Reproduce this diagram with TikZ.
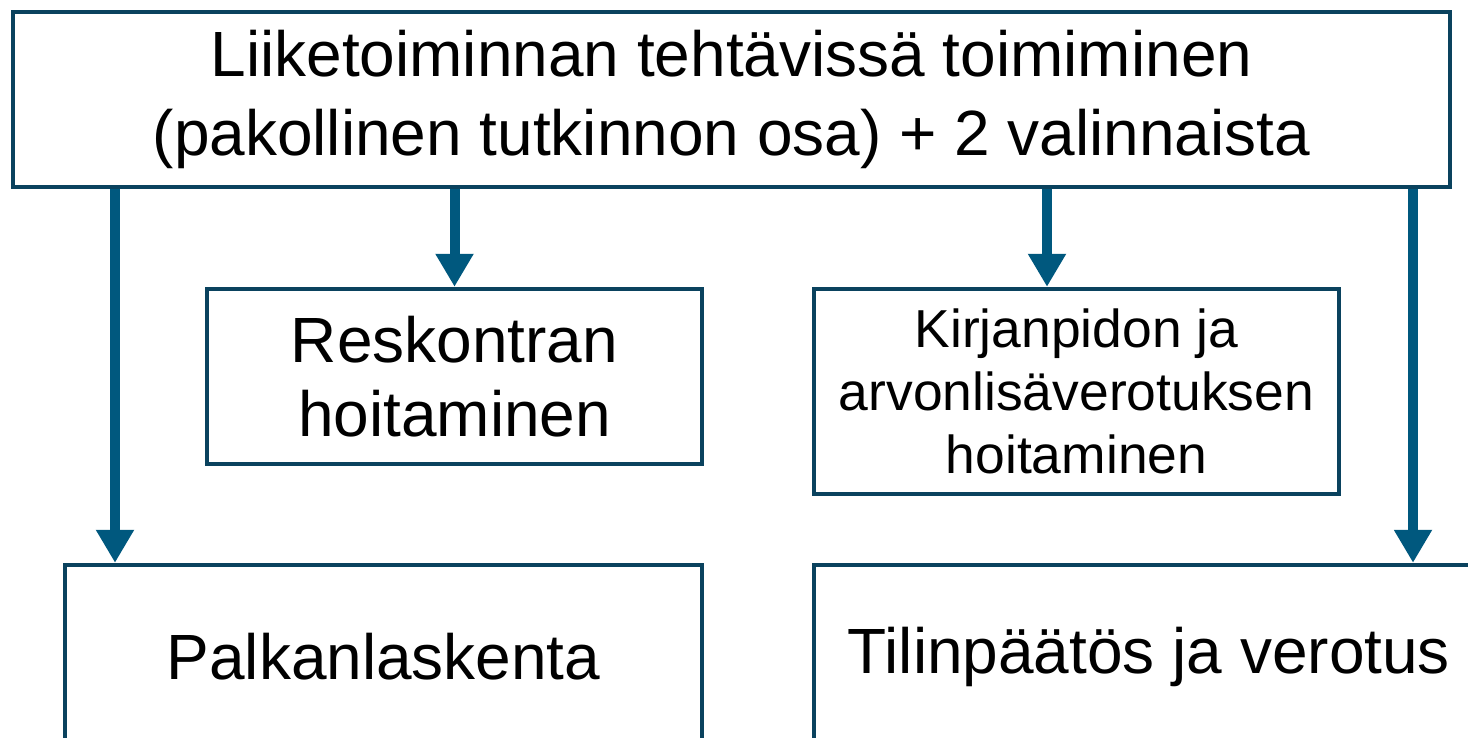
\documentclass[tikz,border=0pt]{standalone}
\usepackage{fontspec}
\setmainfont{Liberation Sans}
\usetikzlibrary{arrows.meta}
\tikzset{
    kbox/.style={shape=rectangle,draw=tkbox_line,line width=2.5pt,fill=white,align=center},
    karrow/.style={draw=tkarrow,line width=0.2cm,-{Triangle[width=0.72cm,length=0.66cm]}}
}
\begin{document}
\begin{tikzpicture}
    \definecolor{tkbox_line}{RGB}{10,66,94}
    \definecolor{tkarrow}{RGB}{0,88,126}
    \clip (0,0) rectangle (29.36,-14.76);
    \fill[white] (0,0) rectangle (29.36,-14.76);
    \node[kbox,minimum width=28.74cm,minimum height=3.5cm,font=\fontsize{36.4}{44.5}\selectfont] (top) at (14.63,-1.99) {Liiketoiminnan tehtävissä toimiminen\\(pakollinen tutkinnon osa) + 2 valinnaista};
    \node[kbox,minimum width=9.9cm,minimum height=3.5cm,font=\fontsize{36.4}{42}\selectfont] (resk) at (9.09,-7.53) {Reskontran\\hoitaminen};
    \node[kbox,minimum width=10.5cm,minimum height=4.1cm,font=\fontsize{30.4}{36}\selectfont] (kirj) at (21.53,-7.83) {Kirjanpidon ja\\arvonlisäverotuksen\\hoitaminen};
    \node[kbox,minimum width=12.74cm,minimum height=3.68cm,font=\fontsize{36.4}{44}\selectfont] (palk) at (7.67,-13.14) {Palkanlaskenta};
    \node[kbox,minimum width=13.4cm,minimum height=3.68cm,font=\fontsize{36.4}{44}\selectfont] (tilin) at (22.98,-13.14) {Tilinpäätös ja verotus};
    \draw[karrow] (top.south -| 2.3,0) -- (palk.north -| 2.3,0);
    \draw[karrow] (top.south -| resk.north) -- (resk.north);
    \draw[karrow] (top.south -| 20.94,0) -- (kirj.north -| 20.94,0);
    \draw[karrow] (top.south -| 28.26,0) -- (tilin.north -| 28.26,0);
\end{tikzpicture}
\end{document}
